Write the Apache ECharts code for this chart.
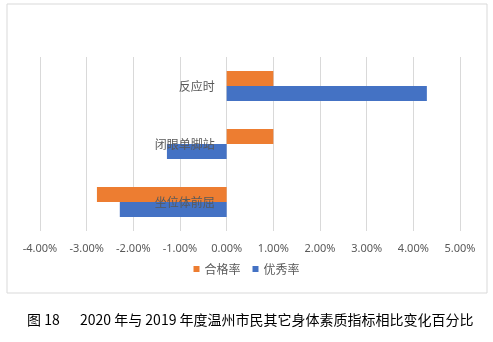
<!DOCTYPE html>
<html><head><meta charset="utf-8">
<script src="https://cdn.jsdelivr.net/npm/echarts@6/dist/echarts.min.js"></script>
<style>html,body{margin:0;padding:0;background:#fff}#c{width:493px;height:342px}</style>
</head><body><div id="c"></div>
<script>
const categories = ['坐位体前屈', '闭眼单脚站', '反应时'];
const passRate = [-2.78, 1.0, 1.0];      // 合格率
const excellentRate = [-2.29, -1.28, 4.29]; // 优秀率
const seriesNames = ['合格率', '优秀率'];
const xMin = -4, xMax = 5, xStep = 1;
const caption1 = '图 18';
const caption2 = '2020 年与 2019 年度温州市民其它身体素质指标相比变化百分比';

const gridLeft = 40, gridRight = 33;
const plotW = 493 - gridLeft - gridRight;
const zeroOffset = -plotW * (0 - xMin) / (xMax - xMin);

const chart = echarts.init(document.getElementById('c'), null, {renderer: 'canvas'});
chart.setOption({
  backgroundColor: '#fff',
  animation: false,
  grid: {left: gridLeft, right: gridRight, top: 57, bottom: 111, containLabel: false, outerBoundsMode: 'none'},
  legend: {
    data: seriesNames, bottom: 62, left: 'center', icon: 'rect', itemWidth: 6, itemHeight: 6, itemGap: 12,
    textStyle: {color: '#595959', fontSize: 12, fontFamily: 'Noto Sans CJK SC'}
  },
  xAxis: {
    type: 'value', min: xMin, max: xMax, interval: xStep,
    axisLine: {show: false}, axisTick: {show: false},
    splitLine: {lineStyle: {color: '#d9d9d9', width: 1}},
    axisLabel: {color: '#595959', fontSize: 11, margin: 12, fontFamily: 'Noto Sans', formatter: v => v.toFixed(2) + '%'}
  },
  yAxis: {
    type: 'category', data: categories, offset: zeroOffset, z: 20,
    axisLine: {show: false, onZero: false}, axisTick: {show: false},
    axisLabel: {color: '#595959', fontSize: 12, margin: 12, fontFamily: 'Noto Sans CJK SC', hideOverlap: false}
  },
  series: [
    {name: seriesNames[0], type: 'bar', data: passRate, itemStyle: {color: '#ED7D31'}, barWidth: 15, barGap: '0%', z: 2},
    {name: seriesNames[1], type: 'bar', data: excellentRate, itemStyle: {color: '#4472C4'}, barWidth: 15, barGap: '0%', z: 2}
  ],
  graphic: [
    {type: 'rect', shape: {x: 7, y: 4, width: 480, height: 289}, style: {fill: 'none', stroke: '#d9d9d9', lineWidth: 1}, silent: true, z: -1},
    {type: 'text', left: 27, top: 313, style: {text: caption1, fill: '#000', fontSize: 14, fontFamily: 'Noto Sans CJK SC'}},
    {type: 'text', left: 80, top: 313, style: {text: caption2, fill: '#000', fontSize: 14, fontFamily: 'Noto Sans CJK SC'}}
  ]
});
</script></body></html>
